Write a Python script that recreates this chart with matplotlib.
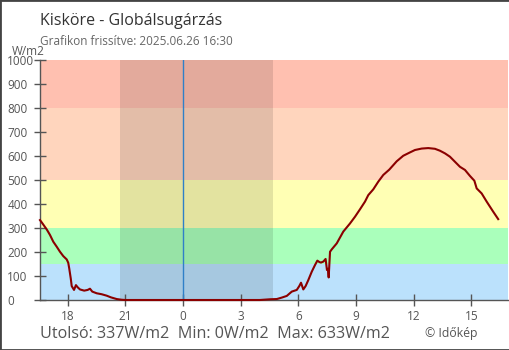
import numpy as np
import matplotlib.pyplot as plt
from matplotlib.patches import Rectangle

# radiation, W/m2; clock hours
evening_hours = [16.56, 16.68, 16.91, 17.08, 17.25, 17.43, 17.60, 17.77, 17.95, 18.03,
                 18.08, 18.16, 18.21, 18.33, 18.43, 18.52, 18.64, 18.86, 19.04, 19.16,
                 19.28, 19.51, 19.77, 20.03, 20.25, 20.55, 20.81, 21.0, 22.0, 23.0, 23.99]
evening_vals = [333, 320, 294, 271, 243, 222, 201, 183, 169, 155,
                132, 90, 58, 42, 62, 53, 44, 39, 42, 47,
                35, 28, 24, 18, 11, 4, 1, 0, 0, 0, 0]

morning_hours = [0.0, 1.0, 2.0, 3.0, 4.0, 4.53, 4.88, 5.14, 5.40, 5.66,
                 5.92, 6.05, 6.14, 6.26, 6.38, 6.52, 6.70, 6.87, 6.99, 7.10,
                 7.18, 7.30, 7.42, 7.49, 7.54, 7.58, 7.65, 7.74, 8.00, 8.34,
                 8.69, 8.95, 9.21, 9.47, 9.64, 9.90, 10.16, 10.42, 10.73, 11.12,
                 11.46, 11.81, 12.07, 12.42, 12.76, 13.11, 13.37, 13.63, 13.89, 14.15,
                 14.41, 14.67, 14.93, 15.16, 15.28, 15.54, 15.80, 15.97, 16.14, 16.40]
morning_vals = [0, 0, 0, 0, 0, 3, 4, 10, 17, 35,
                42, 58, 72, 44, 58, 83, 118, 146, 164, 158,
                156, 160, 171, 125, 130, 94, 201, 211, 236, 285,
                319, 347, 378, 410, 437, 461, 493, 521, 543, 578,
                601, 615, 625, 631, 633, 630, 622, 611, 597, 576,
                555, 542, 517, 497, 465, 444, 410, 389, 368, 337]

# colour bands
band_edges = [0, 150, 300, 500, 800, 1000]
band_colors = ['#bbe1fc', '#aaffbb', '#ffffb4', '#ffd5bd', '#ffc0b0']

# night (sunset prev. day, sunrise) in clock hours
sunset = 20.7
sunrise = 4.69

tick_pos = [-6, -3, 0, 3, 6, 9, 12, 15]
tick_lab = ['18', '21', '0', '3', '6', '9', '12', '15']

t = np.concatenate([np.array(evening_hours) - 24, morning_hours])
v = np.concatenate([evening_vals, morning_vals])

fig = plt.figure(figsize=(5.1, 3.5), dpi=100)
plt.rcParams['font.family'] = ['Open Sans', 'DejaVu Sans']
W, H = 510, 350
ax = fig.add_axes([40 / W, 50 / H, 468 / W, 240 / H])
xmin, xmax = -7.44, 16.91

for i in range(len(band_colors)):
    ax.axhspan(band_edges[i], band_edges[i + 1], color=band_colors[i], lw=0, zorder=0)
ax.axvspan(sunset - 24, sunrise, color='black', alpha=0.11, lw=0, zorder=1)
ax.axvline(0, color='#2f80c8', lw=1.0, zorder=2)

# drawn over the bottom spine so the zero stretch shows like in the original
ax.plot(t, v, color='#8b0000', lw=1.5, zorder=4, clip_on=False)

ax.set_xlim(xmin, xmax)
ax.set_ylim(0, 1000)
ax.set_xticks(tick_pos)
ax.set_xticklabels(tick_lab)
ax.set_yticks(range(0, 1001, 100))
for s in ['top', 'right']:
    ax.spines[s].set_visible(False)
for s in ['left', 'bottom']:
    ax.spines[s].set_color('#555555')
    ax.spines[s].set_linewidth(1.0)
ax.tick_params(axis='both', direction='inout', length=8, width=1, color='#555555',
               labelcolor='#555555', labelsize=8.5)
ax.tick_params(axis='x', pad=3)
ax.tick_params(axis='y', pad=19.5)
for lab in ax.get_yticklabels():
    lab.set_horizontalalignment('left')

fig.text(40 / W, 1 - 25 / H, 'Kisköre - Globálsugárzás', fontsize=11.5, color='#333333')
fig.text(40 / W, 1 - 45 / H, 'Grafikon frissítve: 2025.06.26 16:30', fontsize=8.5, color='#666666')
fig.text(12 / W, 1 - 55 / H, 'W/m2', fontsize=8.5, color='#555555')
fig.text(40 / W, 1 - 338 / H, 'Utolsó: 337W/m2  Min: 0W/m2  Max: 633W/m2', fontsize=11.6, color='#555555')
fig.text(425 / W, 1 - 337 / H, '© Időkép', fontsize=8.8, color='#555555')

fig.patches.append(Rectangle((0, 0), 1, 1, transform=fig.transFigure, fill=False,
                             edgecolor='#444444', lw=2))

fig.savefig('out.png', dpi=100)
